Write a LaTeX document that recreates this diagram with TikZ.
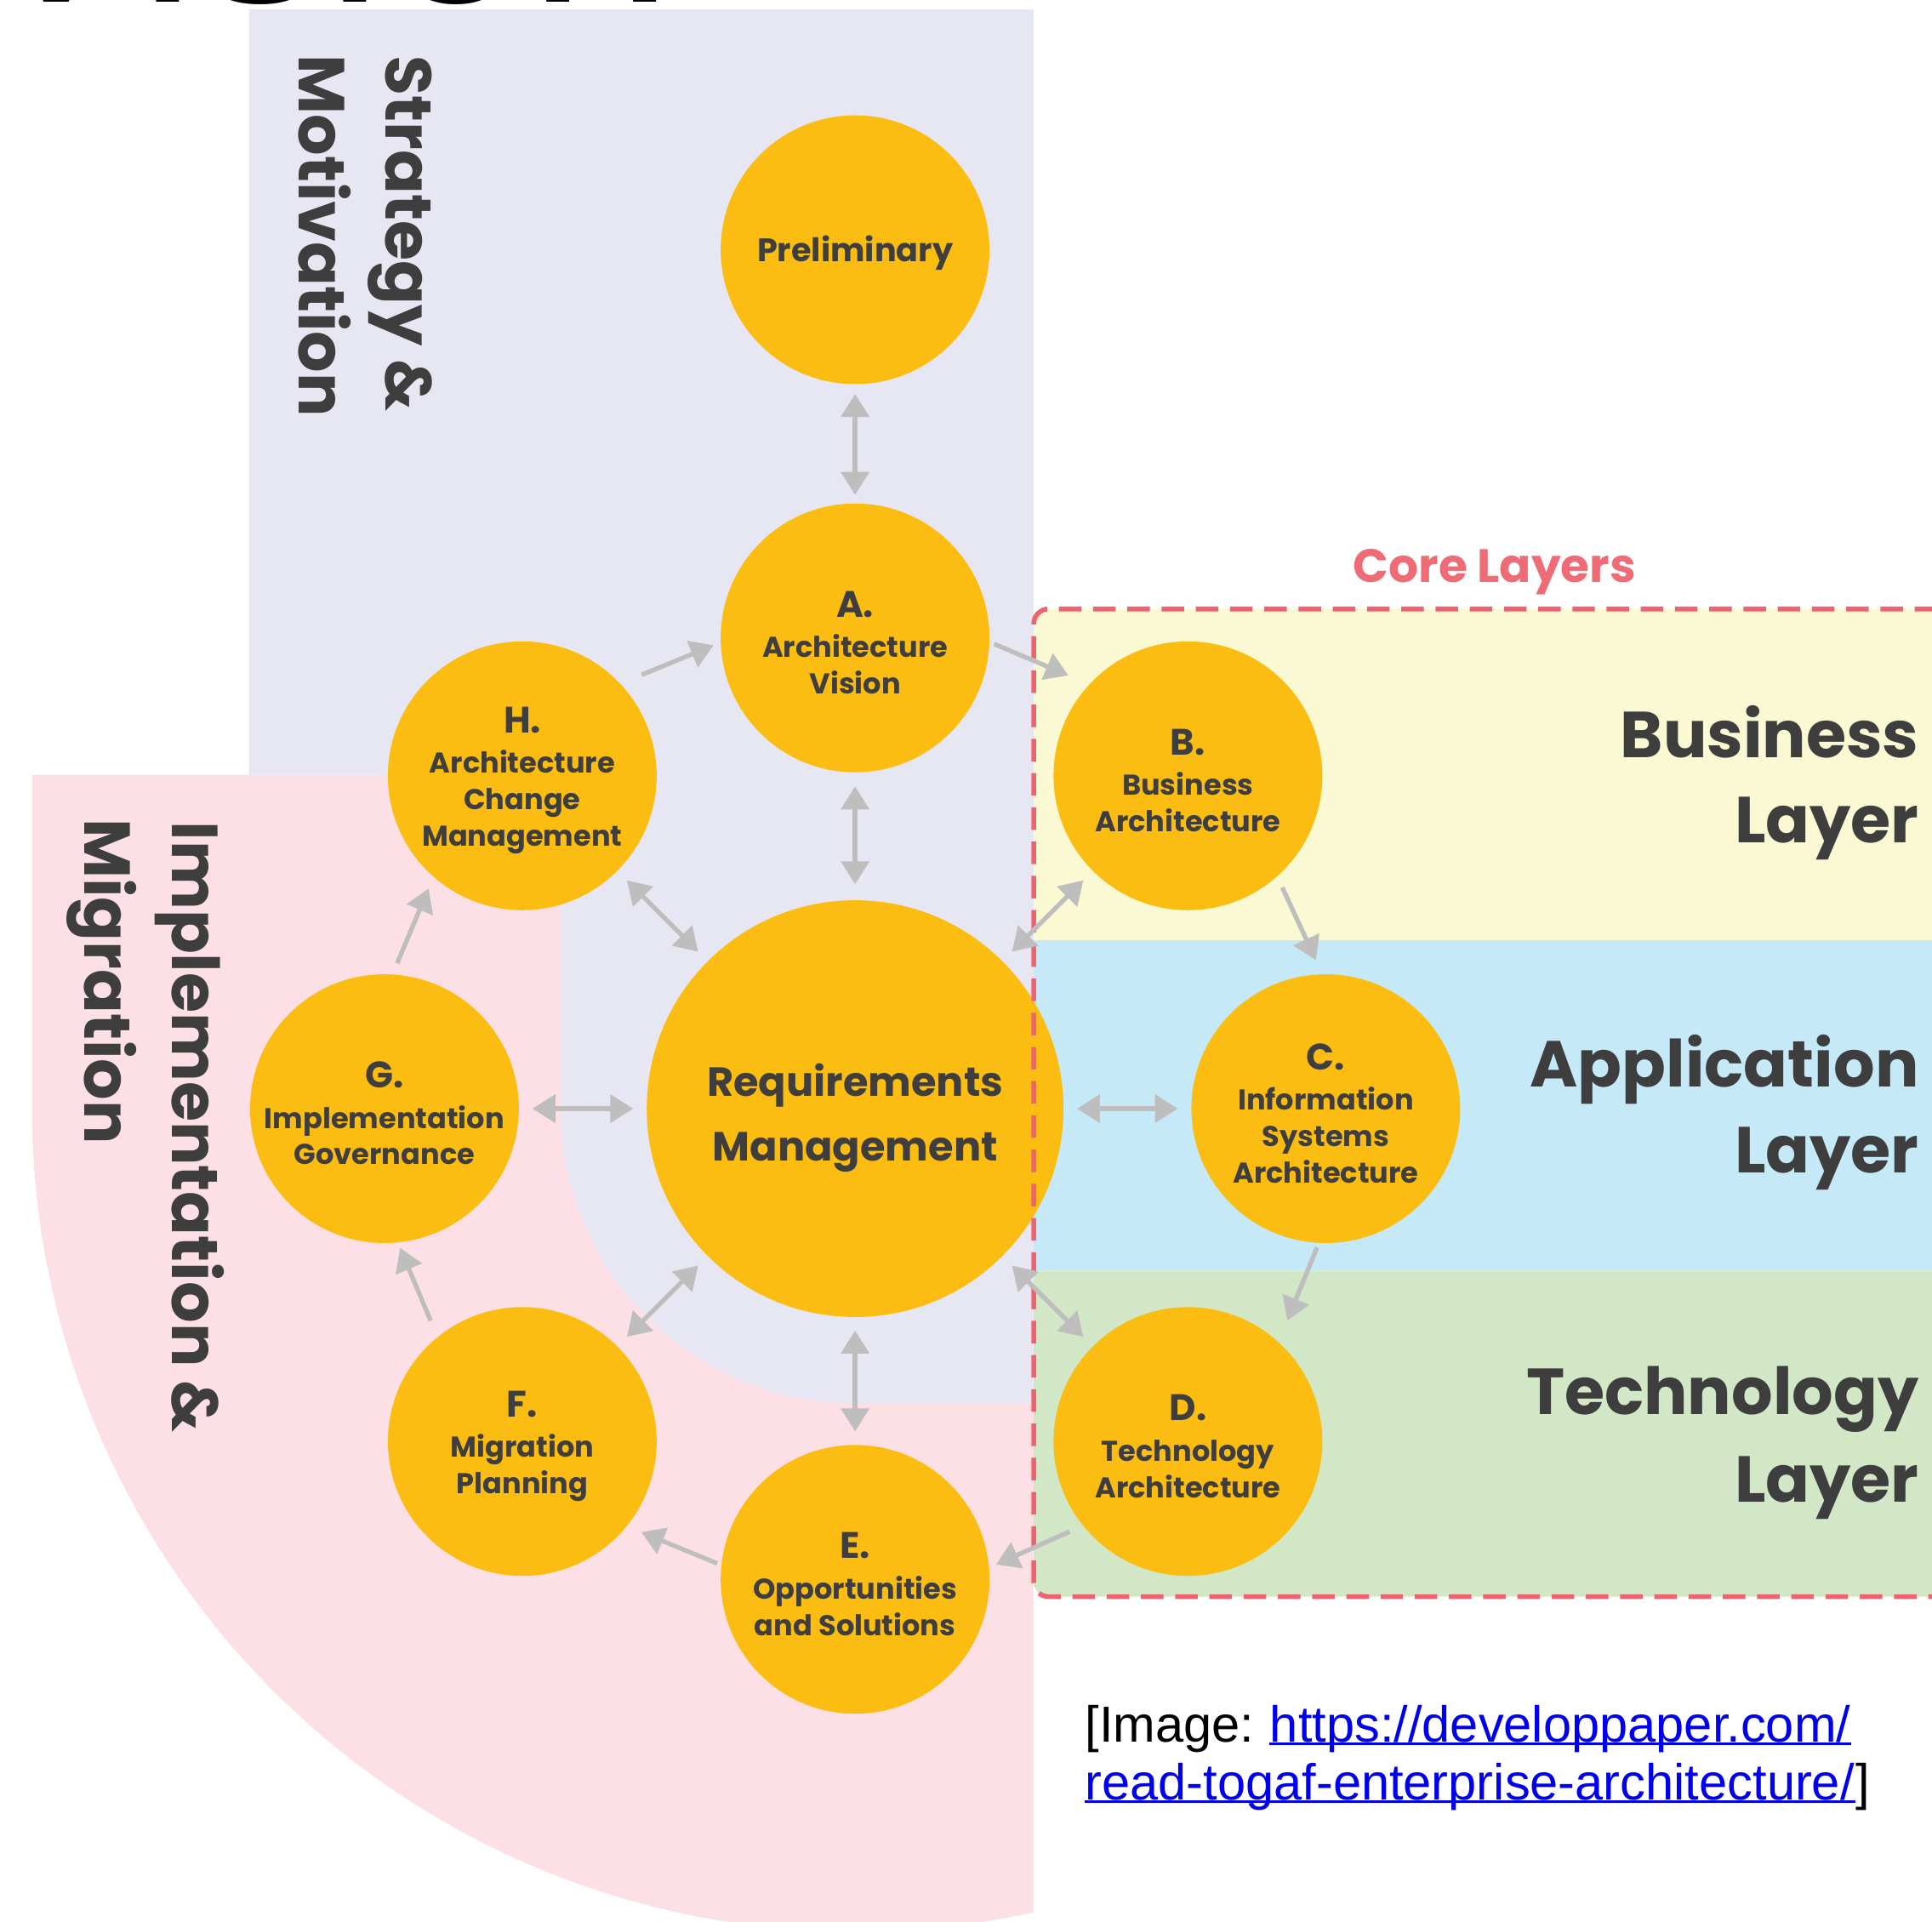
\documentclass[tikz,border=0pt]{standalone}
\usepackage{fontspec}
\setmainfont{Poppins}
\newfontfamily\capfont{Liberation Sans}
\usetikzlibrary{arrows.meta,calc}
\definecolor{circ}{RGB}{252,189,18}
\definecolor{txt}{RGB}{62,62,62}
\definecolor{lav}{RGB}{231,231,243}
\definecolor{pinkbg}{RGB}{252,224,229}
\definecolor{yelbg}{RGB}{251,249,211}
\definecolor{blubg}{RGB}{198,233,248}
\definecolor{grnbg}{RGB}{209,231,197}
\definecolor{arrgray}{RGB}{190,190,190}
\definecolor{dashred}{RGB}{237,100,112}
\definecolor{corered}{RGB}{238,108,118}
\definecolor{urlblue}{RGB}{0,0,238}
\newcommand\phbody{\fontsize{6.6}{8.4}\selectfont\bfseries}
\newcommand\phlet[1]{\rule{0pt}{8.2pt}{\fontsize{8.5}{9}\selectfont\bfseries #1}}
\tikzset{
  phase/.style={circle, fill=circ, minimum size=2.18cm, inner sep=0pt, outer sep=0pt, text=txt, align=center, font=\phbody},
  bigphase/.style={phase, minimum size=3.38cm, font=\fontsize{9.4}{14.9}\selectfont\bfseries},
  arr/.style={draw=arrgray, line width=1.05pt, -{Triangle[length=5.3pt,width=6.4pt]}},
  darr/.style={draw=arrgray, line width=1.05pt, {Triangle[length=5.3pt,width=6.4pt]}-{Triangle[length=5.3pt,width=6.4pt]}},
  biglab/.style={font=\fontsize{15}{19}\selectfont\bfseries, text=txt, inner sep=0pt},
  captext/.style={font={\capfont\fontsize{11.7}{14}\selectfont}, inner sep=0pt, anchor=base west},
}
\begin{document}
\begin{tikzpicture}[x=0.01cm,y=0.01cm]
\useasboundingbox (0,0) rectangle (1568,1559.7);
\clip (0,0) rectangle (1568,1559.7);
% backgrounds
\fill[pinkbg] (839,931) -- (26,931) -- (26,660) arc[start angle=180,end angle=282.5,radius=668] -- cycle;
\fill[lav] (202,1552) -- (839,1552) -- (839,421) -- (694,421) arc[start angle=270,end angle=180,radius=239] -- (455,931) -- (202,931) -- cycle;
\fill[yelbg] (839,796.4) -- (839,1053.5) arc[start angle=180,end angle=90,radius=12] -- (1600,1065.5) -- (1600,796.4) -- cycle;
\fill[blubg] (839,528.5) rectangle (1600,796.4);
\fill[grnbg] (1600,528.5) -- (839,528.5) -- (839,276) arc[start angle=180,end angle=270,radius=12] -- (1600,264) -- cycle;
% heading (cut off at the top edge, as in the reference)
\node[font={\capfont\fontsize{60}{60}\selectfont}, anchor=base west, inner sep=0pt, text=black] (vis) at (-25,1558) {Vision};
% phases
\node[bigphase] (R) at (694,660) {\rule{0pt}{11.8pt}Requirements\\Management};
\node[phase, font=\fontsize{7.5}{9}\selectfont\bfseries] (P) at (694,1357) {\rule{0pt}{7.6pt}Preliminary};
\node[phase] (A) at ($(R)+(90:382)$) {\phlet{A.}\\[0.9pt]Architecture\\Vision};
\node[phase] (H) at ($(R)+(135:382)$) {\phlet{H.}\\[0.9pt]Architecture\\Change\\Management};
\node[phase] (B) at ($(R)+(45:382)$) {\phlet{B.}\\[0.9pt]Business\\Architecture};
\node[phase] (C) at ($(R)+(0:382)$) {\phlet{C.}\\[0.9pt]Information\\Systems\\Architecture};
\node[phase] (D) at ($(R)+(-45:382)$) {\phlet{D.}\\[0.9pt]Technology\\Architecture};
\node[phase] (E) at ($(R)+(-90:382)$) {\phlet{E.}\\[0.9pt]Opportunities\\and Solutions};
\node[phase] (F) at ($(R)+(-135:382)$) {\phlet{F.}\\[0.9pt]Migration\\Planning};
\node[phase] (G) at ($(R)+(180:382)$) {\phlet{G.}\\[0.9pt]Implementation\\Governance};
% core layers frame
\draw[dashred, line width=1.1pt, dash pattern=on 5.2pt off 2.7pt] (1600,1065.5) -- (851,1065.5) arc[start angle=90,end angle=180,radius=12] -- (839,276) arc[start angle=180,end angle=270,radius=12] -- (1600,264);
\node[font=\fontsize{10.8}{12}\selectfont\bfseries, text=corered, anchor=base, inner sep=0pt] (core) at (1213,1087) {Core Layers};
% arrows
\draw[darr, shorten <=0.08cm, shorten >=0.07cm] (P) -- (A);
\draw[darr, shorten <=0.115cm, shorten >=0.13cm] (A) -- (R);
\foreach \n in {H,B,C,D,E,F,G} \draw[darr, shorten <=0.11cm, shorten >=0.11cm] (R) -- (\n);
\draw[arr] ($(H)+(40.2:127)$) -- ($(A)+(183:115)$);
\draw[arr] ($(A)+(-2.5:113)$) -- ($(B)+(140:126.7)$);
\draw[arr] ($(B)+(-49.8:118.6)$) -- ($(C)+(93.8:120.8)$);
\draw[arr] ($(C)+(266.4:112.8)$) -- ($(D)+(50.6:127)$);
\draw[arr] ($(D)+(217.3:120.6)$) -- ($(E)+(6:115)$);
\draw[arr] ($(E)+(173.4:112.8)$) -- ($(F)+(-37.3:121.4)$);
\draw[arr] ($(F)+(127.2:123)$) -- ($(G)+(-83.6:113.7)$);
\draw[arr] ($(G)+(85:118.4)$) -- ($(H)+(230.3:119)$);
% side labels
\node[biglab, rotate=-90, anchor=base west] (strat) at (313,1515) {Strategy \&};
\node[biglab, rotate=-90, anchor=base west] (motiv) at (243,1516) {Motivation};
\node[biglab, rotate=-90, anchor=base west] (impl) at (139.5,893.7) {Implementation \&};
\node[biglab, rotate=-90, anchor=base west] (migr) at (69,896) {Migration};
\node[biglab, anchor=base east] (bus1) at (1558,945) {Business};
\node[biglab, anchor=base east] (bus2) at (1558,876) {Layer};
\node[biglab, anchor=base east] (app1) at (1558,677.4) {Application};
\node[biglab, anchor=base east] (app2) at (1558,608) {Layer};
\node[biglab, anchor=base east] (tec1) at (1558,412) {Technology};
\node[biglab, anchor=base east] (tec2) at (1558,341) {Layer};
% caption
\node[captext] (img) at (880,146) {[Image:\ \mbox{}};
\node[captext, text=urlblue] (u1) at (img.base east) {https://developpaper.com/};
\node[captext, text=urlblue] (u2) at (880,99) {read-togaf-enterprise-architecture/};
\node[captext] (br) at (u2.base east) {]};
\draw[urlblue, line width=0.55pt] ([yshift=-0.015cm]u1.base west) -- ([yshift=-0.015cm]u1.base east);
\draw[urlblue, line width=0.55pt] ([yshift=-0.015cm]u2.base west) -- ([yshift=-0.015cm]u2.base east);
\end{tikzpicture}
\end{document}
